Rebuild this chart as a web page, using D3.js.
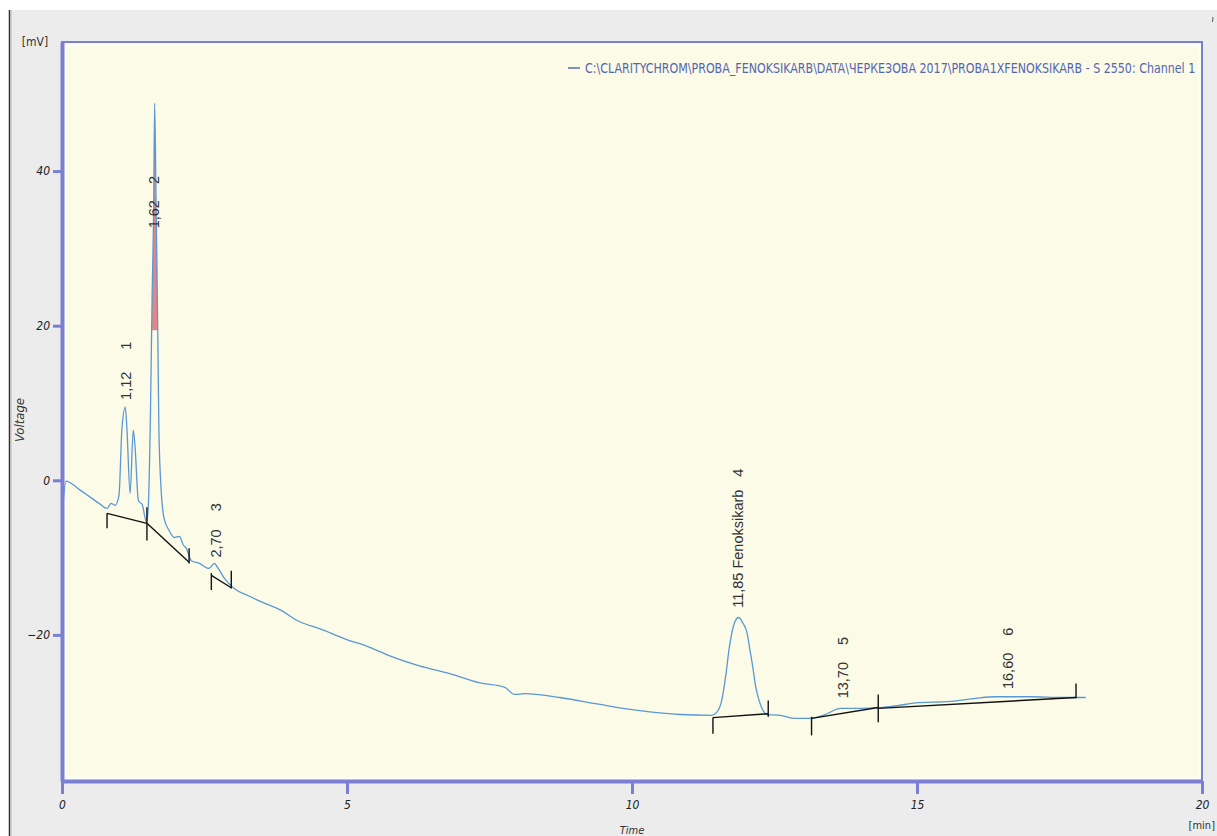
<!DOCTYPE html>
<html><head><meta charset="utf-8">
<script src="https://cdn.jsdelivr.net/npm/d3@7"></script>
<style>
html,body{margin:0;padding:0;background:#fff;}
svg{display:block;}
</style></head>
<body>
<svg id="chart" width="1217" height="836"></svg>
<script>
// ---- data ----
const times = [0.02,0.07,0.30,0.65,0.79,0.86,0.93,1.00,1.05,1.11,1.14,1.195,1.25,1.28,1.34,1.41,1.48,1.51,1.55,1.58,1.61,1.625,1.65,1.68,1.70,1.74,1.79,1.88,1.97,2.06,2.13,2.18,2.27,2.41,2.58,2.67,2.74,2.85,3.02,3.29,3.55,3.81,4.17,4.52,4.96,5.40,5.75,6.27,6.80,7.33,7.77,7.94,8.12,8.73,9.44,10.14,10.84,11.40,11.49,11.56,11.65,11.70,11.75,11.80,11.87,11.94,12.02,12.07,12.12,12.17,12.23,12.30,12.37,12.60,12.86,13.13,13.39,13.66,14.01,14.36,14.71,14.97,15.59,16.03,16.38,17.00,17.52,17.96];
const voltage = [-2.85,-0.1,-1.17,-2.98,-3.63,-2.98,-3.24,-1.94,6.5,9.46,6.5,-1.7,6.5,4.5,-2.6,-3.2,-5.4,-3.9,7.8,23.3,36.3,48.8,36.3,19.4,6.5,-1.3,-4.9,-6.5,-7.4,-7.25,-8.4,-8.8,-10.4,-10.75,-11.4,-10.75,-11.4,-12.7,-14.0,-15.0,-15.9,-16.7,-18.3,-19.2,-20.5,-21.6,-22.7,-24.0,-25.0,-26.2,-26.8,-27.7,-27.6,-28.1,-29.0,-29.8,-30.3,-30.4,-30.0,-28.9,-25.0,-22.0,-19.8,-18.4,-17.75,-18.4,-19.8,-22.0,-24.2,-26.7,-28.5,-29.8,-30.3,-30.4,-30.8,-30.8,-30.3,-29.5,-29.5,-29.4,-29.1,-28.8,-28.6,-28.2,-28.0,-28.0,-28.1,-28.1];

// baselines: [t1, v1, t2, v2]
const baselines = [
  [0.79,-4.27,1.49,-5.57],
  [1.49,-5.57,2.23,-10.6],
  [2.62,-12.3,2.97,-13.9],
  [11.42,-30.7,12.39,-30.2],
  [13.15,-30.8,14.32,-29.4],
  [14.32,-29.5,17.79,-28.1]
];
// peak boundary markers: [t, vTop, vBottom]
const markers = [
  [0.79,-4.27,-6.2],[1.49,-3.5,-7.8],[2.23,-8.8,-10.75],[2.62,-12.0,-14.2],[2.97,-11.7,-14.0],
  [11.42,-30.7,-32.8],[12.39,-28.5,-30.6],[13.15,-30.6,-33.0],[14.32,-27.7,-31.3],[17.79,-26.3,-28.2]
];
// peak labels: [t, v (start of text), retention text, index, gap]
const peakLabels = [
  [1.12,10.4,"1,12","1",22],
  [1.62,32.6,"1,62","2",16],
  [2.70,-10.0,"2,70","3",18],
  [11.85,-16.5,"11,85 Fenoksikarb","4",13],
  [13.70,-28.2,"13,70","5",17],
  [16.60,-27.0,"16,60","6",17]
];
const xTicks = [0,5,10,15,20];
const yTicks = [-20,0,20,40];
const legendText = "C:\\CLARITYCHROM\\PROBA_FENOKSIKARB\\DATA\\ЧЕРКЕЗОВА 2017\\PROBA1XFENOKSIKARB - S 2550: Channel 1";

// ---- drawing ----
const svg = d3.select("#chart");
const axisColor = "#7b7fd3";
const traceColor = "#5a98d4";
const narrow = "'Liberation Sans Narrow','DejaVu Sans Condensed','Roboto Condensed','DejaVu Sans',sans-serif";

svg.append("rect").attr("x",0).attr("y",0).attr("width",1217).attr("height",836).attr("fill","#ffffff");
svg.append("rect").attr("x",10).attr("y",10).attr("width",1207).attr("height",826).attr("fill","#ececec");
svg.append("line").attr("x1",9.5).attr("x2",9.5).attr("y1",10).attr("y2",836).attr("stroke","#3a2a2a").attr("stroke-width",1.5);
svg.append("line").attr("x1",11.5).attr("x2",11.5).attr("y1",10).attr("y2",836).attr("stroke","#f0c8c0").attr("stroke-width",1);

const x = d3.scaleLinear().domain([0,20]).range([62,1202]);
const y = d3.scaleLinear().domain([-38.9,56.7]).range([781,42]);

// plot area
svg.append("rect").attr("x",x(0)).attr("y",y(56.7)).attr("width",x(20)-x(0)).attr("height",y(-38.9)-y(56.7))
  .attr("fill","#fbfbe8").attr("stroke",axisColor).attr("stroke-width",2);
svg.append("rect").attr("x",x(0)+3).attr("y",y(56.7)+3).attr("width",x(20)-x(0)-6).attr("height",y(-38.9)-y(56.7)-6)
  .attr("fill","none").attr("stroke","#fdfdf3").attr("stroke-width",3);

// main peak inner fill (upper part of peak 2)
const fillLevel = 19.4;
const area2 = times.map((t,i)=>[t,voltage[i]]).filter(d=>d[0]>=1.58&&d[0]<=1.68);
svg.append("path").datum(area2)
  .attr("d", d3.area().curve(d3.curveMonotoneX).x(d=>x(d[0])).y0(y(fillLevel)).y1(d=>y(d[1])))
  .attr("fill","#e07070").attr("opacity",0.85);

// trace
svg.append("path").datum(times.map((t,i)=>[t,voltage[i]]))
  .attr("d", d3.line().curve(d3.curveMonotoneX).x(d=>x(d[0])).y(d=>y(d[1])))
  .attr("fill","none").attr("stroke",traceColor).attr("stroke-width",1.3).attr("stroke-linejoin","round");

// baselines
svg.selectAll(".bl").data(baselines).join("line").attr("class","bl")
  .attr("x1",d=>x(d[0])).attr("y1",d=>y(d[1])).attr("x2",d=>x(d[2])).attr("y2",d=>y(d[3]))
  .attr("stroke","#111").attr("stroke-width",1.4);
svg.selectAll(".mk").data(markers).join("line").attr("class","mk")
  .attr("x1",d=>x(d[0])).attr("x2",d=>x(d[0])).attr("y1",d=>y(d[1])).attr("y2",d=>y(d[2]))
  .attr("stroke","#111").attr("stroke-width",1.4);

// peak labels
peakLabels.forEach(p=>{
  const px = x(p[0]), py = y(p[1]);
  const g = svg.append("g").attr("transform",`translate(${px},${py}) rotate(-90)`);
  const t1 = g.append("text").attr("x",0).attr("y",0).attr("dy","0.35em")
    .attr("font-family","'Liberation Sans',Arial,sans-serif").attr("font-size",14.5).attr("fill","#333")
    .text(p[2]);
  const len = t1.node().getComputedTextLength();
  g.append("text").attr("x",len+p[4]).attr("y",0).attr("dy","0.35em")
    .attr("font-family","'Liberation Sans',Arial,sans-serif").attr("font-size",14.5).attr("fill","#333")
    .text(p[3]);
});

// axes
const yAxis = svg.append("g").attr("transform",`translate(${x(0)},0)`)
  .call(d3.axisLeft(y).tickValues(yTicks).tickSize(9).tickSizeOuter(0).tickPadding(3).tickFormat(d3.format("d")));
const xAxis = svg.append("g").attr("transform",`translate(0,${y(-38.9)})`)
  .call(d3.axisBottom(x).tickValues(xTicks).tickSize(13).tickSizeOuter(0).tickPadding(4).tickFormat(d3.format("d")));
[yAxis,xAxis].forEach(a=>{
  a.select(".domain").attr("stroke",axisColor).attr("stroke-width",4);
  a.selectAll(".tick line").attr("stroke",axisColor).attr("stroke-width",3);
  a.selectAll(".tick text").attr("fill","#222").attr("font-family",narrow)
    .attr("font-style","italic").attr("font-size",12);
});
xAxis.selectAll(".tick text").attr("dy","0.9em");

// axis titles
svg.append("text").attr("x",35).attr("y",46).attr("text-anchor","middle")
  .attr("font-family",narrow).attr("font-size",12).attr("fill","#333").text("[mV]");
svg.append("text").attr("transform","translate(24,420) rotate(-90)").attr("text-anchor","middle")
  .attr("font-family",narrow).attr("font-style","italic").attr("font-size",13).attr("fill","#333").text("Voltage");
svg.append("text").attr("x",632).attr("y",834).attr("text-anchor","middle")
  .attr("font-family",narrow).attr("font-style","italic").attr("font-size",11).attr("fill","#333").text("Time");
svg.append("text").attr("x",1215).attr("y",829).attr("text-anchor","end")
  .attr("font-family",narrow).attr("font-size",11).attr("fill","#333").text("[min]");
svg.append("line").attr("x1",1213).attr("x2",1212.5).attr("y1",17).attr("y2",22).attr("stroke","#555").attr("stroke-width",1);

// legend (condensed by horizontal scale so it fits 585..1196)
svg.append("line").attr("x1",568).attr("x2",580).attr("y1",68).attr("y2",68).attr("stroke","#5a6cb8").attr("stroke-width",1.5);
const lg = svg.append("g");
const lt = lg.append("text").attr("x",0).attr("y",0)
  .attr("font-family",narrow).attr("font-size",14).attr("fill","#5566b0").text(legendText);
const natural = lt.node().getComputedTextLength();
lg.attr("transform",`translate(585,73) scale(${611/natural},1)`);
</script>
</body></html>
